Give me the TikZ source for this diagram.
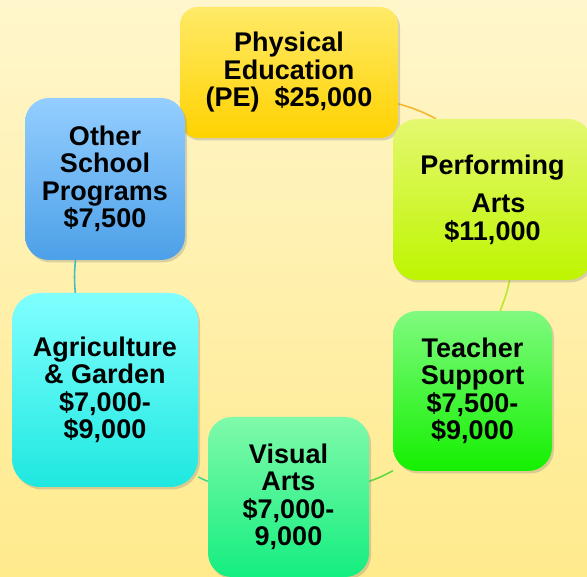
\documentclass[tikz,border=0pt]{standalone}
\usepackage{fontspec}
\setmainfont{Liberation Sans}
\usetikzlibrary{shadows,backgrounds}

\definecolor{bgTop}{RGB}{255,246,204}
\definecolor{bgBot}{RGB}{255,234,140}
\definecolor{peTop}{RGB}{255,234,104}
\definecolor{peBot}{RGB}{255,210,0}
\definecolor{paTop}{RGB}{228,248,112}
\definecolor{paBot}{RGB}{190,245,0}
\definecolor{tsTop}{RGB}{128,250,128}
\definecolor{tsBot}{RGB}{20,240,0}
\definecolor{vaTop}{RGB}{128,250,170}
\definecolor{vaBot}{RGB}{20,238,128}
\definecolor{agTop}{RGB}{128,255,255}
\definecolor{agBot}{RGB}{30,232,224}
\definecolor{otTop}{RGB}{148,206,255}
\definecolor{otBot}{RGB}{76,160,232}

\begin{document}
\begin{tikzpicture}[x=1pt, y=-1pt,
  box/.style={rounded corners=24pt, inner sep=0pt, align=center,
    font=\fontsize{27}{27.5}\selectfont\bfseries,
    drop shadow={shadow xshift=2pt, shadow yshift=-2.5pt, opacity=0.3}},
  link/.style={line width=1.6pt}]
  \useasboundingbox (0,0) rectangle (587,577);
  \node[box, rounded corners=18pt, minimum width=218pt, minimum height=131pt, top color=peTop, bottom color=peBot] (pe) at (289,72.5) {Physical\\Education\\(PE)\ \ \$25,000};
  \node[box, minimum width=199pt, minimum height=161pt, top color=paTop, bottom color=paBot] (pa) at (492.5,199.5) {Performing\\[11pt]\hspace*{12pt}Arts\\\$11,000};
  \node[box, minimum width=159pt, minimum height=160pt, top color=tsTop, bottom color=tsBot] (ts) at (472.5,391) {Teacher\\Support\\\$7,500-\\\$9,000};
  \node[box, minimum width=161pt, minimum height=160pt, top color=vaTop, bottom color=vaBot] (va) at (288.5,497) {Visual\\Arts\\\$7,000-\\9,000};
  \node[box, rounded corners=28pt, minimum width=186pt, minimum height=194pt, top color=agTop, bottom color=agBot] (ag) at (105,390) {Agriculture\\\& Garden\\\$7,000-\\\$9,000};
  \node[box, minimum width=160pt, minimum height=162pt, top color=otTop, bottom color=otBot] (ot) at (105,179) {Other\\School\\Programs\\\$7,500};
  \begin{scope}[on background layer]
    \fill[top color=bgTop, bottom color=bgBot] (0,0) rectangle (587,577);
    \draw[link, color={rgb,255:red,245;green,184;blue,48}] (pe.-16) to[bend left=6] (pa.125);
    \draw[link, color={rgb,255:red,184;green,232;blue,48}] (pa.-78) to[bend left=5] (ts.71);
    \draw[link, color={rgb,255:red,96;green,216;blue,64}] (ts.-135) to[bend left=5] (va.11);
    \draw[link, color={rgb,255:red,64;green,216;blue,144}] (va.169) to[bend left=3] (ag.-43);
    \draw[link, color={rgb,255:red,64;green,192;blue,192}] (ag.107) to[bend left=5] (ot.-110);
    \draw[link, color={rgb,255:red,74;green,159;blue,224}] (ot.45) to[bend left=3] (pe.-165);
  \end{scope}
\end{tikzpicture}
\end{document}
